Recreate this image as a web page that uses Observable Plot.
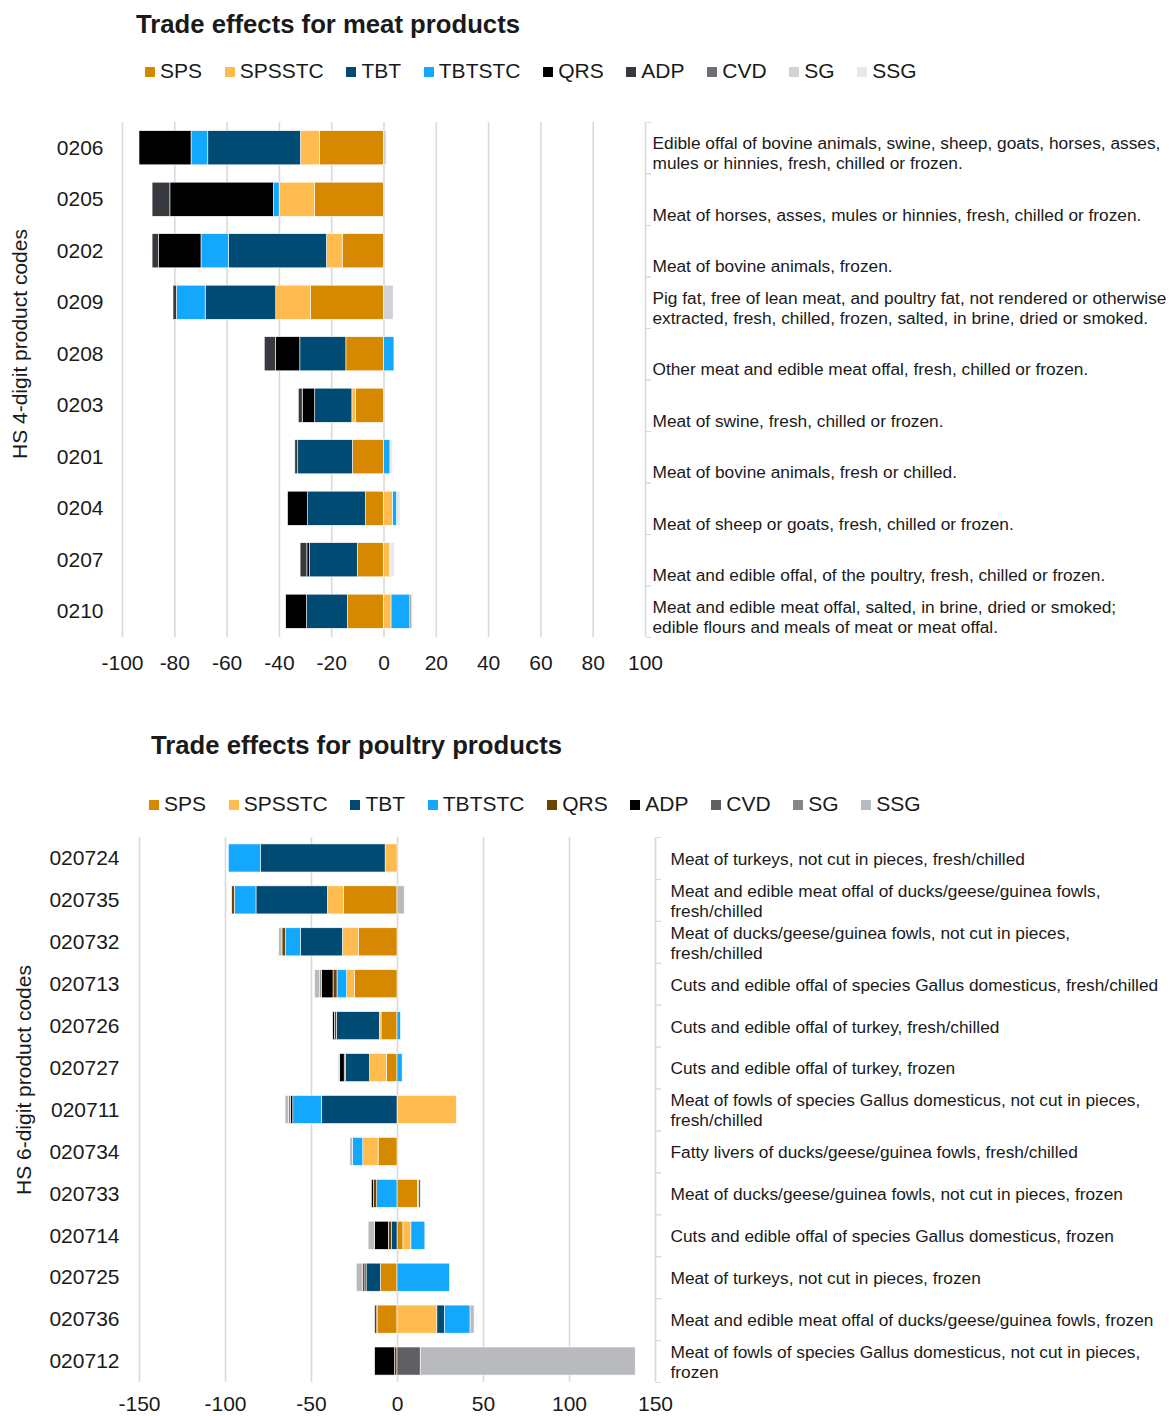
<!DOCTYPE html>
<html><head><meta charset="utf-8">
<script src="https://cdn.jsdelivr.net/npm/d3@7"></script>
<script src="https://cdn.jsdelivr.net/npm/@observablehq/plot@0.6"></script>
<style>
body{margin:0;background:#fff;font-family:"Liberation Sans",Arial,sans-serif;color:#1a1a1a;}
#page{position:relative;width:1169px;height:1416px;overflow:hidden;background:#fff;}
.title{position:absolute;font-weight:bold;font-size:25.7px;line-height:30px;white-space:nowrap;}
.legend{position:absolute;display:flex;font-size:21px;line-height:24px;white-space:nowrap;}
.item{display:flex;align-items:center;margin-right:22.7px;}
.sw{width:10px;height:10px;margin-right:5px;margin-top:2px;flex:none;}
.chart{position:absolute;left:0;}
</style></head>
<body><div id="page"></div>
<script>
// ---------- shared ----------
const seriesNames = ["SPS","SPSSTC","TBT","TBTSTC","QRS","ADP","CVD","SG","SSG"];

// ---------- meat chart data ----------
const meatTitle = "Trade effects for meat products";
const meatAxisTitle = "HS 4-digit product codes";
const meatCodes = ["0206","0205","0202","0209","0208","0203","0201","0204","0207","0210"];
const meatDescriptions = [
  "Edible offal of bovine animals, swine, sheep, goats, horses, asses,\nmules or hinnies, fresh, chilled or frozen.",
  "Meat of horses, asses, mules or hinnies, fresh, chilled or frozen.",
  "Meat of bovine animals, frozen.",
  "Pig fat, free of lean meat, and poultry fat, not rendered or otherwise\nextracted, fresh, chilled, frozen, salted, in brine, dried or smoked.",
  "Other meat and edible meat offal, fresh, chilled or frozen.",
  "Meat of swine, fresh, chilled or frozen.",
  "Meat of bovine animals, fresh or chilled.",
  "Meat of sheep or goats, fresh, chilled or frozen.",
  "Meat and edible offal, of the poultry, fresh, chilled or frozen.",
  "Meat and edible meat offal, salted, in brine, dried or smoked;\nedible flours and meals of meat or meat offal."
];
const meatSPS    = [-24.5,-26.4,-15.8,-27.9,-14.4,-10.8,-11.9,-6.9,-10.0,-13.8];
const meatSPSSTC = [-7.3,-13.5,-6.0,-13.3,0,-1.3,0,3.5,2.2,2.9];
const meatTBT    = [-35.4,0,-37.5,-27.0,-17.6,-14.2,-20.9,-22.1,-18.3,-15.6];
const meatTBTSTC = [-6.4,-2.2,-10.5,-11.0,4.0,0,2.5,1.6,0,7.0];
const meatQRS    = [-19.9,-39.6,-16.2,0,-9.3,-4.8,0,-7.7,-1.0,-8.0];
const meatADP    = [0,-6.8,-2.5,-1.3,-4.3,-1.5,-1.1,0,-2.6,0.6];
const meatCVD    = [0,0,0,0,0,0,0,0,0.3,0];
const meatSG     = [1.0,0,0,3.7,0,0,0,0,0,0.5];
const meatSSG    = [0,0,0,0,0,0,1.0,1.2,1.6,0];
const meatTicks  = [-100,-80,-60,-40,-20,0,20,40,60,80,100];
const meatColors = ["#d68800","#ffbb4d","#004b74","#13a8fe","#000000","#36393d","#6d6e75","#d0d2d5","#e8e9eb"];

// ---------- poultry chart data ----------
const poultryTitle = "Trade effects for poultry products";
const poultryAxisTitle = "HS 6-digit product codes";
const poultryCodes = ["020724","020735","020732","020713","020726","020727","020711","020734","020733","020714","020725","020736","020712"];
const poultryDescriptions = [
  "Meat of turkeys, not cut in pieces, fresh/chilled",
  "Meat and edible meat offal of ducks/geese/guinea fowls,\nfresh/chilled",
  "Meat of ducks/geese/guinea fowls, not cut in pieces,\nfresh/chilled",
  "Cuts and edible offal of species Gallus domesticus, fresh/chilled",
  "Cuts and edible offal of turkey, fresh/chilled",
  "Cuts and edible offal of turkey, frozen",
  "Meat of fowls of species Gallus domesticus, not cut in pieces,\nfresh/chilled",
  "Fatty livers of ducks/geese/guinea fowls, fresh/chilled",
  "Meat of ducks/geese/guinea fowls, not cut in pieces, frozen",
  "Cuts and edible offal of species Gallus domesticus, frozen",
  "Meat of turkeys, not cut in pieces, frozen",
  "Meat and edible meat offal of ducks/geese/guinea fowls, frozen",
  "Meat of fowls of species Gallus domesticus, not cut in pieces,\nfrozen"
];
const poultrySPS    = [0,-31.1,-22.4,-24.7,-9.3,-6.2,0,-11.0,11.9,3.5,-9.7,-11.6,0];
const poultrySPSSTC = [-6.9,-9.4,-9.4,-4.6,-1.0,-9.8,34.5,-8.9,0.8,4.6,0,23.2,0];
const poultryTBT    = [-72.4,-41.5,-24.3,0,-24.9,-13.9,-43.8,0,0.8,-3.1,-8.3,4.4,0];
const poultryTBTSTC = [-18.8,-12.6,-8.7,-5.6,2.0,3.0,-16.8,-6.0,-11.8,8.1,30.5,14.9,0];
const poultryQRS    = [0,-1.5,-2.1,-2.3,-1.2,-0.8,0,0,-1.9,-1.9,-1.2,-0.6,-1.4];
const poultryADP    = [0,0,0,-6.7,-1.0,-2.7,-1.2,0,-1.2,-8.1,-1.0,-0.8,-11.6];
const poultryCVD    = [0,0,0,0,0,0,0,0,0,0,0,0,13.5];
const poultrySG     = [0,0,0,-1.0,0,0,-1.2,0,0,0,0,0,0];
const poultrySSG    = [0,4.2,-1.9,-3.1,0,-0.8,-2.1,-1.5,0,-3.7,-3.5,2.3,125];
const poultryTicks  = [-150,-100,-50,0,50,100,150];
const poultryColors = ["#d68800","#ffbb4d","#004b74","#13a8fe","#6b4400","#000000","#5f5f64","#868686","#b9babd"];

// ---------- helpers ----------
function longData(codes, cols) {
  const out = [];
  codes.forEach((c, i) => seriesNames.forEach((s, j) => {
    const v = cols[j][i];
    if (v) out.push({code: c, type: s, value: v});
  }));
  return out;
}
const page = document.getElementById("page");
function addTitle(text, left, top) {
  const d = document.createElement("div");
  d.className = "title"; d.textContent = text;
  d.style.left = left + "px"; d.style.top = top + "px";
  page.appendChild(d);
}
function addLegend(colors, left, top) {
  const d = document.createElement("div");
  d.className = "legend"; d.style.left = left + "px"; d.style.top = top + "px";
  seriesNames.forEach((s, i) => {
    const it = document.createElement("div"); it.className = "item";
    const sw = document.createElement("span"); sw.className = "sw"; sw.style.background = colors[i];
    const t = document.createElement("span"); t.textContent = s;
    it.appendChild(sw); it.appendChild(t); d.appendChild(it);
  });
  page.appendChild(d);
}
function makeChart(o) {
  const plotH = o.height - o.marginTop - o.marginBottom;
  const half = plotH / o.codes.length / 2;
  const desc = new Map(o.codes.map((c, i) => [c, o.descriptions[i]]));
  const chart = Plot.plot({
    width: 1169, height: o.height,
    marginTop: o.marginTop, marginBottom: o.marginBottom,
    marginLeft: o.marginLeft, marginRight: o.marginRight,
    style: {fontFamily: "'Liberation Sans', Arial, sans-serif", fontSize: "21px", color: "#1a1a1a", background: "white"},
    x: {domain: [o.ticks[0], o.ticks[o.ticks.length - 1]]},
    y: {domain: o.codes, paddingInner: o.padIn, paddingOuter: o.padIn / 2, round: false},
    color: {domain: seriesNames, range: o.colors},
    marks: [
      Plot.gridX(o.ticks, {stroke: "#d9d9d9", strokeOpacity: 1, strokeWidth: 1.6}),
      Plot.barX(o.data, {x: "value", y: "code", fill: "type", stroke: "white", strokeWidth: 0.6}),
      Plot.axisX(o.ticks, {tickSize: 0, tickPadding: o.xPad, tickFormat: d => String(d), fontSize: 21, label: null}),
      Plot.axisY({tickSize: 0, tickPadding: o.yPad, fontSize: 21, fontVariant: "tabular-nums", label: null}),
      Plot.axisY({anchor: "right", tickSize: 5, tickPadding: 0, tickFormat: () => "", dy: half, stroke: "#d9d9d9", label: null}),
      Plot.axisY({anchor: "right", tickSize: 5, tickPadding: 0, tickFormat: () => "", dy: -half, stroke: "#d9d9d9", label: null}),
      Plot.text(o.codes, {y: d => d, text: d => desc.get(d), frameAnchor: "right", dx: o.descDx, dy: o.descDy,
        textAnchor: "start", lineAnchor: o.descAnchor, fontSize: 17.3, lineHeight: 1.16, fill: "#1a1a1a"}),
      Plot.text([o.axisTitle], {frameAnchor: "left", rotate: -90, dx: o.titleDx, dy: o.titleDy,
        textAnchor: "middle", lineAnchor: "middle", fontSize: 21, fill: "#1a1a1a"})
    ]
  });
  chart.classList.add("chart");
  chart.style.top = o.top + "px";
  page.appendChild(chart);
}

// ---------- meat ----------
addTitle(meatTitle, 136, 9);
addLegend(meatColors, 145, 59);
makeChart({
  codes: meatCodes, descriptions: meatDescriptions, ticks: meatTicks, colors: meatColors,
  data: longData(meatCodes, [meatSPS, meatSPSSTC, meatTBT, meatTBTSTC, meatQRS, meatADP, meatCVD, meatSG, meatSSG]),
  top: 110, height: 570, marginTop: 12, marginBottom: 43, marginLeft: 122, marginRight: 524,
  padIn: 0.337, xPad: 18, yPad: 19, descDx: 7, descDy: 21, descAnchor: "bottom",
  axisTitle: meatAxisTitle, titleDx: -102, titleDy: -36
});

// ---------- poultry ----------
addTitle(poultryTitle, 151, 730);
addLegend(poultryColors, 149, 792);
makeChart({
  codes: poultryCodes, descriptions: poultryDescriptions, ticks: poultryTicks, colors: poultryColors,
  data: longData(poultryCodes, [poultrySPS, poultrySPSSTC, poultryTBT, poultryTBTSTC, poultryQRS, poultryADP, poultryCVD, poultrySG, poultrySSG]),
  top: 820, height: 596, marginTop: 17, marginBottom: 34, marginLeft: 139, marginRight: 514,
  padIn: 0.33, xPad: 14, yPad: 20, descDx: 15, descDy: 0, descAnchor: "middle",
  axisTitle: poultryAxisTitle, titleDx: -115, titleDy: -30
});
</script>
</body></html>
